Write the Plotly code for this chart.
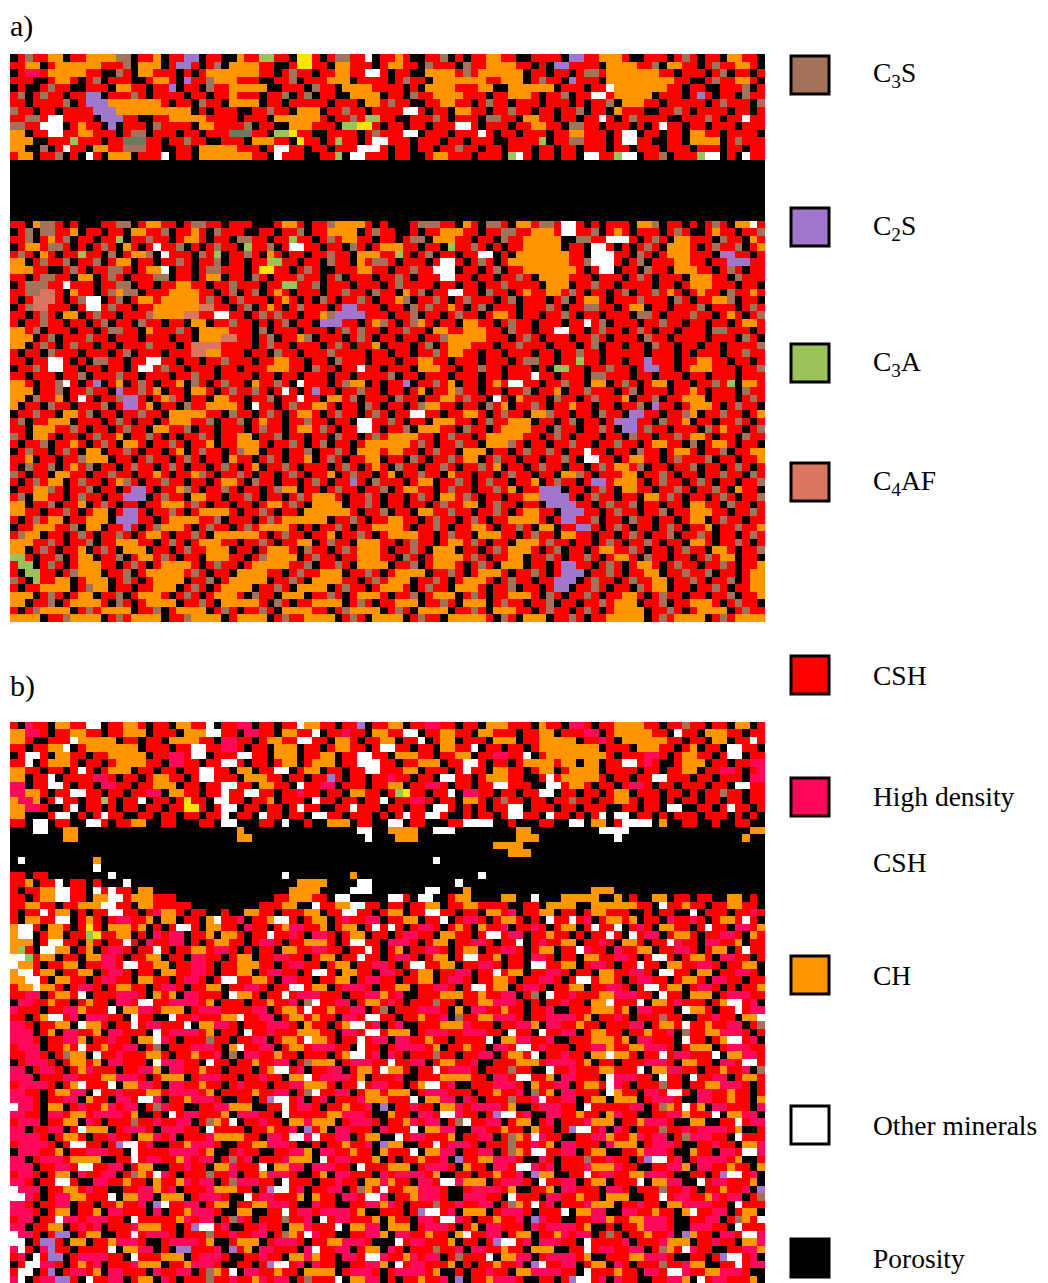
import plotly.graph_objects as go

# phase codes used in the microstructure grids (one letter per cell)
PHASE_CODES = ["R", "H", "O", "K", "W", "B", "P", "G", "F", "Y", "D"]
PHASE_COLORS = ["#ff0000", "#ff0a5a", "#ff9600", "#000000", "#ffffff",
                "#a2725a", "#a077cc", "#9cc35a", "#d97562", "#ffe400", "#6b7b60"]

LEGEND_LABELS = ["C<sub>3</sub>S", "C<sub>2</sub>S", "C<sub>3</sub>A", "C<sub>4</sub>AF", "CSH",
                 "High density<br>CSH", "CH", "Other minerals", "Porosity"]
LEGEND_COLORS = ["#a2725a", "#a077cc", "#9cc35a", "#d97562", "#ff0000",
                 "#ff0a5a", "#ff9600", "#ffffff", "#000000"]

PANEL_A_ROWS = [
    "KRBRROOKRR OOOOBBKRRO KRRPPKRRKK ORRGGRRKYY RKRBBRRWKR RORKKRRBKR KRROORRKKR RRRKPPRROO ORKKRRRKRB RKRRKOORRK",
    "RROOKROOOO OORRRBKOOO KRPPRKRBKO OOORRKKRYY RRKOORRRKR OORRKBRRRK BRROOOORRK RKPPRRRRKO OOORRBKOOR RKRBRROORK",
    "KRHHROOOOO RRKKBRKOOR RRKRKROOOO OOORRKRBRR KRROORRWWR KRRKKOOOOR BROOOOOOKR RKRRKRBBRO OOOOOORRKR RRKRBKRRKR",
    "RRRKKROORK RBKRRRKKRO ORKPRRBOOO RRRKKRRBKR RROOOKRRRR KRBRRKOOOO OOORROOOKR BRRKPRRRKO OOOOOOOORR KKRBRROORK",
    "KRKKRBRRKK RRRKOORRKR RPKRRKBRRO OOOOKKRRRK BRRKOOOORR RRKRKOOOOR RROOKKOOOO OOKRRRKRRW OOOOOOORRK RRKKRRRBKR",
    "RBKRBRRKRR PPKRRRBRKR RRRKRRKRRO RRRKRRBKRB KRRKKOOOOK RRKBRROOOO RRRKRROOOR KRRBKRRWWR OOOOOKRRRK RPRKRRKBRR",
    "RRKRRRRBKR PPPOOOOOOO RKRRKBRRKO OOOKRRKRRR RRKRRRKOOR BRRKKRROOR RKRBRRKRRR KRRRKRKRRB KOOORRKRRR RRKRBRRRKB",
    "BRRKRRKRRR RPPPOOOOOO OOOOKRKRRR KKRRBRRKOO OKRRBRRKRR RRWWRKRRKO ORRKRRBRRK RRKRRBKRRK ORRRKKRRBR KRRRRKRRKR",
    "RRBBRWWRRR RKPPPRRKKR ROOOOORRRR KRRRKOOOOO ORKRRBRGGR RKKRRRBRKR RRKBBRRKOO RRKRRKRRWR KRBRRRRKKR RRBRKRRWRR",
    "BBRRWWWKRO RRKPKRRRKB RRRRKOORRR RBKRRKKOOO RRRKGGYYRK RRKRRKRRRW WRKRRRKRRO ORRKBBRRKR RRKRKRWRRK RRKRRRKRRR",
    "OOKRRWWRRO ORRRKRBBKR RRKRRKRRRD DDRRKGGYRR KKRRRRKRBR RRWWKRRRKR RRWRKRRKRR RKRROORRRK RWWKRRKRRK OORRKRRRRK",
    "OOOKKRRRGR RRKRRDDDRR KRRBRRKKRR RKOOORRKYR RKRGRRKRWW RRRKRRRKRR KRRRKKRRRR GKRRBBRRRK RWWRRKKRRK OOOOKRBRRR",
    "OOKKBKRWRR KOORRBBBRR KKRRKOOOOO RRRKRWWRRK RRKRRRWWWR KRRKRRKRRB RRKRRKRRRK RRKRRKRRRK RRKRRRKRRR KRRRKRRKRR",
    "ROOKRRBKRK WRKOOOKRRR WKRRKOOOOO OORRKWRRRK KRRGKWWRRR KRRKKROORR RKRRRKGWRK RRKRRKWWRR GWWKRRBKRR RGWWKRKWRR",
    "KKKKKKKKKK KKKKKKKKKK KKKKKKKKKK KKKKKKKKKK KKKKKKKKKK KKKKKKKKKK KKKKKKKKKK KKKKKKKKKK KKKKKKKKKK KKKKKKKKKK",
    "KKKKKKKKKK KKKKKKKKKK KKKKKKKKKK KKKKKKKKKK KKKKKKKKKK KKKKKKKKKK KKKKKKKKKK KKKKKKKKKK KKKKKKKKKK KKKKKKKKKK",
    "KKKKKKKKKK KKKKKKKKKK KKKKKKKKKK KKKKKKKKKK KKKKKKKKKK KKKKKKKKKK KKKKKKKKKK KKKKKKKKKK KKKKKKKKKK KKKKKKKKKK",
    "KKKKKKKKKK KKKKKKKKKK KKKKKKKKKK KKKKKKKKKK KKKKKKKKKK KKKKKKKKKK KKKKKKKKKK KKKKKKKKKK KKKKKKKKKK KKKKKKKKKK",
    "KKKKKKKKKK KKKKKKKKKK KKKKKKKKKK KKKKKKKKKK KKKKKKKKKK KKKKKKKKKK KKKKKKKKKK KKKKKKKKKK KKKKKKKKKK KKKKKKKKKK",
    "KKKKKKKKKK KKKKKKKKKK KKKKKKKKKK KKKKKKKKKK KKKKKKKKKK KKKKKKKKKK KKKKKKKKKK KKKKKKKKKK KKKKKKKKKK KKKKKKKKKK",
    "KKKKKKKKKK KKKKKKKKKK KKKKKKKKKK KKKKKKKKKK KKKKKKKKKK KKKKKKKKKK KKKKKKKKKK KKKKKKKKKK KKKKKKKKKK KKKKKKKKKK",
    "KKKKKKKKKK KKKKKKKKKK KKKKKKKKKK KKKKKKKKKK KKKKKKKKKK KKKKKKKKKK KKKKKKKKKK KKKKKKKKKK KKKKKKKKKK KKKKKKKKKK",
    "RRKOBBRKRK KKRRBBKROO RRKRBBRRKR RRKKKROORK RRBOOOORKR KKKRBBBRRK ORKBBRKOOR BBRWWRKRKR RRKOOBKRRK RKRBRKOOWR",
    "KRBKBBRROK RRKRRKOORR BKRRORKBRR RKKRRKRRBK RROOOOKRBR RKKRKRROOO RRKRRBBRRO OORWWRRBKR ORKRRRKRBR KKRORRKRRB",
    "RRBKRORBKR RKRRGKRRBR RKROORKRRK BBRRKRRGRR KRBROORRKR RKRBBKOOOR RKRRKBRROO OOOKKBBRRW WWRKRBRKOO RRRKBRRKOR",
    "KROORBBRKR KRBRKORKRW RRBKRKRBRR KGRRBKRWWR RKRRKBRKRO OORRKRRKGR RBRKRKRROO OOOKRRKWWR KRKRBRKOOO RKRBRRBKRO",
    "RBRKORKRRG RRKBKROOBK WRRRKBRGKR RBRKORKRRK RRBRRKOOOR RGRKRBKRRK RRWWKRKOOO OOOORRKWWW RRKBRKROOO RRRKPPRRKR",
    "OOKRBRRBKR RBKROOKRRK RRBRKRRBKR RKRRGGRRKR RKBRRKORBB RKRRRKRWWR KRBRKROOOO OOOORRBWWW RKRBKRRROO RRKRRPPPRR",
    "OOORRKKRBR KRRBBRKROO WKRRKRBBRR RKRYYRRKRB RKKRRROORR KRRBRRWWWK RRKRBKRROO OOOOORKRWW KRRKBRRKOO ORRKRBRKRR",
    "RRKRBBRRKO OKRBRKRRRB BKRRKROOKR RKBRKRRRBR RKRBKRRRKR RBRKRRRWWR RKRRKRRBRK OOOORRRKRR RKRBRKRRRK OOORRKBRRR",
    "KRBBBRRWRR RKRRBBKRRK RROORRKRRB RRRKRRGGRR BKRRRKRRRK RBRRRRKRRK RRKRRBRRRR KOOOKRRBRR KRRRRKRRKR OOORRRKRRK",
    "RRBBFFRKOR RKRBOBBKRR ROOOORRKRB KRBKRORKRR RKRRBRRKBR RKORBKRRWW RRKBRRKROR ROORBRKRRK RBKRRBRORK RORRKBRROR",
    "RKRFFFRKRB WWKRBKROOR OOOOORBRKR BRRRKRORKR KBRKRRBRKR ROBKRRBRKR BRRRKRBKRR RKRBKROORK RRRBRRRKBR KRROOBKRRK",
    "KRBFFRRRKR WWRBRRKRRO OOOOOFFRRK RBKRORKRBR RRKRPPRRRK RRKBRBRROR KRBKRRRKRR RBRKRRBBRR KROOKRRKRR RBKRRRKRBR",
    "RRKRBRKOOK RBRRKRRRBO OOOFFRRWWR RKRBRBRRKR ROBPPPPRRR KRRBKRRKRB RRKROORKRR KRRBRKRRKR RRKBBRKRRR BRRKRORKRB",
    "RKRRBRRKRR KRBKRRKBRR KRRKOOKRRB RRKRKRBKRR KPPPRRKROB RKRBORKRRK OORRKRBRRK RRRKRRWRBK RRRKRRBRRK RRKRRKROOR",
    "OORBKRRRKR RKRBBRRKOR RRBRKOOOOR RRKBKRRRKR RRKRBRBRRK RRBRRKOORR OOORRKBRRK RRWWRRKRBR RKRBRKRRKR RRKBBRRRKR",
    "OOOKRBKRRR BRRKRRRKRR RKRRKOOOFF RRKRBKRROB KRRRKRBRKR RKRRKRRBOO OOORRRKRBR KRRRKRRBRK RRRKBRRKRR RRKRRRKBRK",
    "OOKRBRKRBR RKRRKRRRBR RRKRFFFFRR RRKRBRRKRR RKRBRKRROK RRRKRBKROO ORRRKRRBRR RKRRRKRBKR RKRRKBRRKR RKRRKRRRRB",
    "RKRRKBRRRK RRRKRBKRRR KRRRFFOORR RKRRKBRRKR RRBRRRRKRR KRRKRRBROO RRKRRKRRRK RRKRRBRRKR RRRRKRRRKR KRRRKRRBRR",
    "RRKRRWWRKR KBBRRKRRWW RRKRRKRRBR RRKRROORRK RRKBRRRKRR RKRROORRKR RRKRRRKRBB RRKRRGRRKR RKRRPRRRKR ROORRKRRKR",
    "KRRBRWWRRK RRKRRKRWWR BRRKRRRKRR KRRROOORRK BRRKRRWRRK RRRKOOORRK RRBRRKRRRK RKGGRRKRRB RRKRPPRRKR OOORRRKRRB",
    "RRKRRRKRRB KRRRBRRKRR RKRRBRRKRR RRKRRKRRKR RRKRRKRRRR BKRRKRRRKR RRKRRKRRRW RRKRRRKBBR RRKRRKRRRK RRKRRRKRRR",
    "OORKRRBWRK RPKROKRBRK RROKBRKRBR RKORRBRKWR RRKRBOOKRK RRPKRRBROK RRKRORWWRR KRRBRRKOOK RBRKROOKRR KRRBRGKOOR",
    "OOOKRRBKRR BRRKPRRBRO KRRKOORKRB RRBRKRWRKR PRRKRRBRRK RRKROKRROB RRKRRKRRBK RROKRRBRRR KRBKRRRKRR ORKRRRKBRR",
    "OOKBRROKRW RKRRBPPRKR OBRKRRKOOR RKRRBKRRWR RKOORBKRRR KBRRKRROOR BRRKWRKORR RKBRRKRBRR ROKRRBKRRO OOKRRRKRBR",
    "OKRRKBRRKR RRBKRPPROK RRKBRROOOO RKWRRKRBRR OORKRRKBRK RRKRBOORRK RRKBROKRRB RKRRORRKRR KRRBKPRRKR OOORKRBRRK",
    "KRRBRRKOOR BKRRKRRBRR KOOOOORRKB RRKRBRKROO RKRBRRKRBR KRRWWRRKRR OORKRBRRKO OBRRKRRKBR RKPPRRKRRB OKRRBRRKRO",
    "RBKRROOOKR RRKRBRKRRK ROOORRBKRR BKRORRKRRB RRKRRKWWRR BRKRRKOOOR RKRBRROOOK RRKRBKRRKR PPPRRKBRRO KRRKRRBRKR",
    "RRKOOORRBR KRRKRBRRKO ORRBKRRKRR RKRBRRKROO RBRKRRWWRK RRBKOOORRK BRRKROOOOR RKBRRKRRBR KPPRBRRKRR RKBRORRKRB",
    "BRKOORKRRK RBRROKRRBR KRKRRBRKRR OOKRRBKRRK RRKBRRKRBR OOOORRKRBR RKROOOOORR KRBRKRRRKR RKBRRKRRBR OORKRRKBRR",
    "RKRRBKRROR KRBRKOORKR RBRKRROKRR OOORKRRBRK RBKRRKROOO OOORBRKRRB RRKOOOBRKR RKRRBRRKRR BRRKROORRK BKROORKRRK",
    "KRBRRKRBRK OOKRRBRKRR KROKRBRRKR BOOKRRKRRB KRRBRKOOOR OORRKRBRRK OOOKRRKRBR RBRKRRWRRK RRKBRRKROO RKRRBKRROO",
    "RROKRRKRRB OOOKRRKRBR RKRBRKRRKO RRKRBRKRRO KRBRKRROOK RRKBRKRRBR OOKRBRRKRR KRRBRKWWRR KROORRKRBR RRBKRRKRRO",
    "RKBRRBKROR BKRRKRBRRK RBRKRRKRBR KROKRRBRKR RRKRBRKROR KBRRKRRBRK RRBROKRRKR BRRKRRKRBR OORBKRRKRR BKRRKRBRKR",
    "BRKRRKOORR KRRBRRKRRO RKRROBRKRR BRKRRKRBRK RROKRBRRKR OKRRBRRKOR RKRRKRBRRK RRKOOBRKRR ROOKRRBRKR RKRRBRRKBR",
    "RKRBROOKRB RRKROBRKRR BRRKRRKROO RKBRRKRRKR BRKRRPRKBR RRKROOKRRB RKRBRRKRRO KRBRRKRPPR OOORKRBRRK RBRKRRKRRB",
    "KRROOBRKRR BKRRKRPPRK RROBRKRRBR KRRKRBOOKR RKRBRRKRRB KROORRKRBR RKRRBROKRR PPPKRRKRBR KOORRKRRBR KRRBRKORRK",
    "RBKOORRKRB RRKRRPPPKR BRRKOORRKR RBRKRRKRBR OOORKRRBRK RRKRBRKOOR BRKRRKRROO PPPPRKRBRR KRRKOORBRK RRKRBRKRRB",
    "OOKRRBKRRO KRBRKRRKRR OOORBRKRRK RRKROORBRK OOOOKRRBRK RRKRRKRBRR OOKRBRRKRR KPPPPRRKRB RRBKRRKRRK OORRKBRRKR",
    "OORRKRRBRK ROOKRPPRKR RBRKROOOOR KRRBRKRRKO OOOOORKRRB KRRKOORRBR RKRRBRKROO RRKPPPRRKR BRRKRRBKRR OOORRKRRBR",
    "RKRBROOKRR OOOKPPPRRK ROOOORRBKR RRKRBROOOO OOKRRBRKRR OORRKRBRRK RBRKRROOOO RKRPPRRBKR RKBRRKRRKR OOKRBRRKRR",
    "KRROOORRBK OOKRRPRKRB OOORKRBRRK RBROOOORKR KRRBRKRROO OORKRRBRKR ROORKRRBRK OOKRRPPRKR BRKRRKRBRK RROKRRBRRO",
    "RBOOKRRKRB RKRRBRKROO RKRRBRKOOO OOORKRBRRK RROKRRBRKR OOOORRKRBR RKOOORRKRB RRKOORRKRR KRBRKRRBKR RBRKRRKRBR",
    "OOORRBRKRR BKRROOORRK RBRKROOORR KRRBRKRROO KRBRRKOOOR RKRBRRKROO RBRKRRKOOO RBRRKRRKRB RKRRBRKRRK OORKRRBRKR",
    "OOKRBRKRRO KRBRKOOOKR RKRBRROOOK RRKROOORKB RRKRBROOOR KRRBRKOOOK RRKRBROOOR KRBKRRKROO RRBRKRRKRB RRKOORKRRB",
    "GGRKRRBKRO OKRRBKROOR BRKRRKOOOR RKRBOOOOKR BRRKRROOOR RKBRKROOOO RBRKRROOKR RBRKRRBRKR OORKBRRKRR KRBROOKRRK",
    "RGGKRBRKRO OORRKRBRKR OOOORKRBRR KROOOOORRB KRRBRKOOOO KRRBKROOOR KRBRKOOOKR RKRPPRRKRB RKROORKRBR RKRRBRKRRO",
    "RKGGRRKRBO OOKRRBKROO OOORBRKRRK OOOORRKRBR ROOOKRRBRK ROOOOKRRBR KROOORKRRB RKRPPPKRRB RKRROOKRRB RRBKRRKROO",
    "BRKGRROOKR OOOKRBRKRO OOOKRRBKRO OOOOKRRBRK OOOORRKRBR OOOKRRBRKR OOORKRBRRK RRPPPKRBRR KRBRROOKRR BRKRRBKROO",
    "RKRROOOOKR BOOKRRKRRO OOKRBRKROO OOKRRBRKOO OOKRBRRKRO OORKRBRRKO OORKRRBKRR KRPPKRRBRK RRKBROOKRR KRRBRKRROO",
    "OOOKRBRKRO OKRRBKROOO RKRBRKROOO RKBRRKOOOK RRBRKROOOR KRRBKROOOK RBRKRROOOR KBRKRRBRKR ROORKRBRRK RRKRRBKRRO",
    "OOKRRBKROO OORKBRKROO OOKRRBRKOO OOORKBRKRR OOOOKRBRKR ROOOKRRBRK OOOKRBRRKR RBKRRKRRBR OOOKRRBKRR OOORKRBRRK",
    "RKRBOOOOKR BROOOOKRRB KROOOOKRBR KRRBRKOOOO RRKRBOOOOK RBRKOOOOKR RBRKOOORRK RBRRKRBRKR OOOOKRRBRK ROOOOKRBRR",
    "OOOOKRRBOO OOKRBROOOO KRRBOOOOKR OOOOKRBRRO OOOKRBRKOO OOKRBRRKOO OOORKBRKOO OKRRBRKRRO OOOOKRBROO OOKRBROOOO",
]

PANEL_B_ROWS = [
    "RKHRRKOORR WWKRROORKR RKOORRWKRR HHKRRKRRWO ORRKRRPKRR OOKRRHHRRK RRKOOORRRK ORRKHHRKRR OOOORRKRRB RRKRRKOOKR",
    "OOHHRKRROO RRKRROOOKR RRKOOOWWRR KHHRRKOORR WKRRHRRKOO RRWWKRROOR RKOORRRKRR OOKRRRHHKR OOOOORRKWR RKOOORRKRR",
    "OORKKRRRWO OOOOKRRKRR KOOOORRKHH RRKROORRWW RRKOORKRRO OKRRWKROOK RRRKOOOKRR OOOOOKRRHR KOOOOOORRK RRKOOKRRWR",
    "RRKRROOWKR OOOOOOOKRR RKRRWWRRHH RKRRKOOOKR RKROORRKRW WRRKRRKOOR RWKRRKRRKR OOOOOOOOKR RRKOOORRKR OKRRKWWRRK",
    "KRWWRKOORR KRROOOOOKR RHHRWWKRRR WWRRKOOOKR ROOKRRWWRR KOOORRKRRO OKRRHHRRWK ROOOOOOOOR KRRRHHRKRO ORRKRWWKRR",
    "RRWKROOORK RRKROOOORR KHHRRKRRWW RKRRKROOKR OOOKRRWWWR RKRROOOKRR WWRKRRKROO OOROOKOOKR RWWRHRKKRO OOKRRKRRHH",
    "OORRKRRKRW RKROOOKRRK RRKRRWWRRK OOKRRWWKRO OKRRKRRWWR RROOKRRRKR WRRKOORRKR OOKROOOOKR RRRKRRKRRO OKRRHHRKRH",
    "OOKRRWKRRR RHHRKRRKRO ORRKRWWRRR KOOORRKRRK RRPRKRRKRR HRRKRRKWWR RKROOORRKK RWROOOOORK RRKRRWWRRR KRRKRRRKHH",
    "HHKRRWWRKR RKHHRRKRRO OOKRRKRRWW RRKOORRKWR RHHKRRRKRR OOKRRHHRKR RKRRWWRRRK KWWROORKRR KRHHRKRRKR RRKRRKWWRR",
    "HHOORKRRWW RRKRRKRRHH KOORRKRRWR RWWRRKRRHR RKRRKOORRK RGYRRKRRWK HHRRKRRKRR WWKRRKRRKR OOKRRRKRRK RKRRBRRKRR",
    "OHHOKRWRRK RRGRKRRWKR RKRYRRKWWR RKRROKRRRK WRRKRRKRRW KRRHHRKRRK OORKRBRRKR RKRRBRRKRR OORKRRKRKR RKRRKRRKRR",
    "OOHHRKKRWK RRKRKRRKRR KRRYYRKRWW KRRKRRKRWR RKKRRWRRRK RRKRRKWWRK RKRKRRWWKR RRKRRKRRRK KRRKRRKWWK KRRKRWRRKR",
    "OOKKKRWWKR KRWRRKKRRK RRKRRKRRWK RRKWRRKRRK WWRRKRRRKR KRWRRWWRKK RKRRKRWWRR KWRRKRKRWK WWKRRKRKRR RKRRRKRKRK",
    "RRKWWKRRKK WWRKRROOKK RRKKKRRKWW KKKRRKWKKR KKOOOKRRKK WWKRRKKKRR WWWWKKRKKK RRKKWWKOOK RWWWWKOKKR RKKRKKRRKK",
    "KKKWWKKOOK KKKKKKKKKK KKKKKKKKKK OKKKKKKKKK KKKKKKWWKK OOOOKKWWWK KKKKKKKOOK KKKKKKKKWW WWKKKKKKKK KKKKKKKKOO",
    "KKKKKKKOOK KKKKKKKKKK KKKKKKKKKK OOKKKKKKKK KKKKKKKWKK KOOOKKKKKK KKKKKKKOOO KKKKKKKKKK WKKKKKKKKK KKKKKKKOKK",
    "KKKKKKKKKK KKKKKKKKKK KKKKKKKKKK KKKKKKKKKK KKKKKKKKKK KKKKKKKKKK KKKKOOOOKK KKKKKKKKKK KKKKKKKKKK KKKKKKKKKK",
    "KKKKKKKKKK KKKKKKKKKK KKKKKKKKKK KKKKKKKKKK KKKKKKKKKK KKKKKKKKKK KKKKKKOOOK KKKKKKKKKK KKKKKKKKKK KKKKKKKKKK",
    "KWKKKKKKKK KOKKKKKKKK KKKKKKKKKK KKKKKKKKKK KKKKKKKKKK KKKKKKWKKK KKKKKKKKKK KKKKKKKKKK KKKKKKKKKK KKKKKKKKKK",
    "KKKKKKKKKK KWKKKKKKKK KKKKKKKKKK KKKKKKKKKK KKKKKKKKKK KKKKKKKKKK KKKKKKKKKK KKKKKKKKKK KKKKKKKKKK KKKKKKKKKK",
    "RRKRRKKKKK KKKWKKKKKK KKKKKKKKKK KKKKKKWKKK KKKKKOKKKK KKKKKKKKKK KKWKKKKKKK KKKKKKKKKK KKKKKKKKKK KKKKKKKKKK",
    "RROKRRWKRR KRKKKWKKKK KKKKKKKKKK KKKKKKKKOO OOKKKKWWKK KKKKKKKKKW KKKKKKKKKK KKKKKKKKKK KKKKKKKKKK KKKKKKKKKK",
    "RKRROOWWRR KWRWRRKOOK KKKKKKKKKK KKKKKKKOOO OKKKKWWWKK KKKKKWWKKK OKKKKKKKKK KKKKKKKOOO KKKKKKKKKK KKKKKKKKKK",
    "RRKROOWWRR KOOWWROOOR RRKKKKKKKK KKKKKRROOO RRKWWKKKKK WWRKWWKKRO OKKKKOOKKW KKKOOOOOKK OKRKKOOKRR KRRKKOOKRK",
    "RROORRKRRO OOWWRRKOOR RRRRKKKKKK KKKRRROOKK WRROOWWRRK RRKRROOKRR OORRRRKKRR KOOOOKKOOO OOORRKWRRO RRKRROORRK",
    "RKRRWROOKR KRRWWRRKRH OORKRRKKRK KOORRKRRRO OKRRWWRRKR OOKRRWWRRK RRKOORHKRR OOKRRKROOR RRKKRKRRKK WKRRRKRRHR",
    "RKOORRWWKR ORKRHHRROK OOKRRKOWRR HKRROWWRKR OOKRHRRHHK RROOKRRWKR HHRKROORKR KWRRWRHKRO OROKRRKHRR HRKROORWRK",
    "OWWRKOORKR YRKOOOROKR KRWWRKOORR KHRRKROHHR ROKROOKRWR WRKRHHRKRO RKORRHKRRH RKROOKRWRR WKRHRKOORR KRWRRKHHRO",
    "OWWKROOKRR GYRROOKRKH RHHKRROKOO RKRRWRRHRK HHRKROOKRR KRHHRRKOOR RKRWWRHHKR RORRKRKRRW RKWRHHKROO RKRRHHRKOR",
    "OOOKRWWRRK ORKRRWRKHR RHHKRKROOR RKRHHRKRRO OORKRWWRRK HHHRKROOKR RHHRKRRWKR HRROOKRRHR KOORKRRWHR RKHHRROKRR",
    "OGRKWWOOKR OKRHHRKRRW RKRROORHHR KRKRRKOORR HHRRKRRWRK ROKRRHHRKR OOKRRHHRKR OOKRRWHRRK HRROOKRRHH RKROOKRWRR",
    "WWGROOKRRK OOHHRKRROO KRRKHHRRKR OOKRRHHRRK ROOKRRWRRK RHHRKROOKR WWRROKRRKH HRKRRKOORR HHRKRWWRKR OORKHHRRKR",
    "WOORKRROOK RRHHRWWRRO OKRRHHRKRR OOORRKRHHR RKROOKRRHH RKRWWRROOK RRHHRKRRKW WRROOKRHHR KRRWRRKOOR RHHRKRROOK",
    "OWWROOKRRO OKRHHRKRRK OORRHHRKRR OOKRHHRRKR WWRKOORRKH HRKROOKRRH HKRRWROOKR RHHRKRRKOO RRHHRKWWRR KOOKRRHHRK",
    "OOWWRKOORR KRHHRRKOOR RKRHHRKRWW RROORKHHRR KRROOKRHHR RKRROOKRHH RKRROORKRR HHRKRWWROO RKRHHRRKRO ORKHHRRKRR",
    "ROOWOORKRH HRKROORRKR HHRKRROOKR RHHRKRRWWR OOKRHHHRKR ROOKRRHHRK RWWROOKRHH RKRROOKRRH HRKRWWROOK RHHRKRKRRO",
    "RRHHKROORW KRRRHHHRKO ROKHHRRRKW OORKRRWRHH HRRRKRRHHO RHKKRRROOO RRORRHHKRB KWRRHRRROO HHHRRKWRRK OOOKRHHHRR",
    "KHHRRORRKR ORRKHHRWWR RHHHHROKRR RKRRORRHKB WRRHHKROOR HRKRRRBRRK RROOHHHRKR KRRHRRKOOW RRRWKOORHR RRKROWWRHK",
    "HRRRKRRHHO RRRWKOOHHR OOOKRHHHRR RRHHKROORW RRORRHHKRB KRRRHHHRKO KHHRRORRKR RHKKRRROOO ROKHHRRRKW OORKRRWRHH",
    "RRKROWWRHK HHHRRKWRRK KWRRHRRROO WRRHHKROOR ORRKHHRWWR RKRRORRHKB RROOHHHRKR RHHHHROKRR HRKRRRBRRK KRRHRRKOOW",
    "HHRKRROOKW OORKRRWRHH RRRWKOOHHR KRRRHHHRKO RRKROWWRHK RHKKRRROOO HRRRKRRHHO KHHRRORRKR RRHHKROORW RRORRHHKRB",
    "HHHKROKHHR ROKHHRRRKW RHHHHROKRR KWRRHRRROO ORRKHHRWWR OOOKRHHHRR HHHRRKWRRK WRRHHKROOR RKRRORRHKB RROOHHHRKR",
    "HHHRKRRHHO KRRHRRKOOW HRKRRRBRRK RRHHKROORW OORKRRWRHH KHHRRORRKR RRRWKOOHHR RHKKRRROOO ROKHHRRRKW RRKROWWRHK",
    "RHHHKRRORW RRORRHHKRB KRRRHHHRKO WRRHHKROOR HHHRRKWRRK RHHHHROKRR ORRKHHRWWR HRRRKRRHHO RROOHHHRKR OOOKRHHHRR",
    "RRHHRKRBOO KWRRHRRROO RKRRORRHKB KHHRRORRKR RRKROWWRHK HRKRRRBRRK RRHHKROORW KRRHRRKOOW OORKRRWRHH RRRWKOOHHR",
    "KRHHHRKROO ROKHHRRRKW HHHRRKWRRK RRORRHHKRB OOOKRHHHRR WRRHHKROOR RHKKRRROOO RHHHHROKRR KRRRHHHRKO ORRKHHRWWR",
    "HHKRHHRKRO HRRRKRRHHO KHHRRORRKR RRKROWWRHK RRHHKROORW OORKRRWRHH HRKRRRBRRK KWRRHRRROO RRRWKOOHHR RKRRORRHKB",
    "HHHKRRRHHR RROOHHHRKR OOOKRHHHRR KRRHRRKOOW RHHHHROKRR RHKKRRROOO ORRKHHRWWR ROKHHRRRKW HHHRRKWRRK WRRHHKROOR",
    "RHHHHRKROW RRRWKOOHHR KHHRRORRKR HRRRKRRHHO OORKRRWRHH RRKROWWRHK KRRRHHHRKO RRHHKROORW HRKRRRBRRK RROOHHHRKR",
    "HHRRKROOHH KWRRHRRROO RHHHHROKRR RRORRHHKRB WRRHHKROOR OOOKRHHHRR RKRRORRHKB ROKHHRRRKW ORRKHHRWWR KHHRRORRKR",
    "HHHRKRRHHK ORRKHHRWWH KRROHHHRKK RRKRPWWRHK RHKRRRHOOO RRRWKOOHHK HRKRRRBRRH WRRHHKROOK OOOKRHHHRK KHHRRORRKO",
    "WHHRKOOKRH RROHRHHKRB HRRKKRRHHO OOKKRRWRHH RKRRORRHKP KRRHRRKOOH RHHHHROKKR HHHRRKWRRR RRHHKRBORW ROKHHRRRKH",
    "HHRRKHHROO RHHHHROKKR KWRHHRRROK HHHRRKWRRR RROOHHHRKK ORRKHHRWWH RRKRPWWRHK KHHRRORRKO HRRKKRRHHO RRRWKOOHHK",
    "RHHHKRROOK HRKRRRBRRH RRHHKRBORW KRRHRRKOOH OOOKRHHHRK RROHRHHKRB WRRHHKROOK RHKRRRHOOO KRROHHHRKK OOKKRRWRHH",
    "HHKRRHHKRW OOOKRHHHRK HHHRRKWRRR RKRRORRHKP ROKHHRRRKH RRRWKOOHHK KHHRRORRKO RRKRPWWRHK HRKRRRBRRH RHHHHROKKR",
    "HHHHRKROOR KRRHRRKOOH RHKRRRHOOO ORRKHHRWWH WRRHHKROOK KWRHHRRROK RRHHKRBORW HRRKKRRHHO RROHRHHKRB HHHRRKWRRR",
    "RHHHHRKRWW RRKRPWWRHK KRROHHHRKK RROOHHHRKK RKRRORRHKP OOKKRRWRHH HRKRRRBRRH ROKHHRRRKH OOOKRHHHRK KRRHRRKOOH",
    "KHHHRROKRR HHHRRKWRRR RHHHHROKKR HRRKKRRHHO KHHRRORRKO RRRWKOOHHK RRHHKRBORW WRRHHKROOK KRROHHHRKK ORRKHHRWWH",
    "HHKRHHHROO OOKKRRWRHH RROHRHHKRB RHKRRRHOOO KWRHHRRROK RKRRORRHKP RROOHHHRKK HRKRRRBRRH RRKRPWWRHK RHHHHROKKR",
    "HHHKRRHHRW WRRHHKROOK KRRHRRKOOH RRRWKOOHHK HHHRRKWRRR OOOKRHHHRK ORRKHHRWWH RHKRRRHOOO HRRKKRRHHO KHHRRORRKO",
    "RHHRKROOKH RRHHKRBORW HRKRRRBRRH KRROHHHRKK ROKHHRRRKH RHHHHROKKR RKRRORRHKP OOKKRRWRHH RROOHHHRKK RRKRPWWRHK",
    "HHRKRRWWRK KHHRRORRKO RROHRHHKRB HHHRRKWRRR KRRHRRKOOH ORRKHHRWWH OOOKRHHHRK WRRHHKROOK RRRWKOOHHK KWRHHRRROK",
    "WHHHKRROOR HRRKKRRHHO RHKRRRHOOO RRKRPWWRHK RRHHKRBORW RROOHHHRKK RHHHHROKKR ROKHHRRRKH HRKRRRBRRH RKRRORRHKP",
    "WWHRKRHHOO RRRWKOOHHK OOOKRHHHRK KWRHHRRROK ORRKHHRWWH KRROHHHRKK HHHRRKWRRR KHHRRORRKO OOKKRRWRHH RROHRHHKRB",
    "HHRKRRHHKR RKRRORRHKP WRRHHKROOK RROOHHHRKK HRRKKRRHHO HRKRRRBRRH RRHHKRBORW RHKRRRHOOO KRRHRRKOOH HHHRRKWRRR",
    "HHHRKROOKR ROKHHRRRKH KRROHHHRKK OOKKRRWRHH RHHHHROKKR RRKRPWWRHK OOOKRHHHRK RRRWKOOHHK KHHRRORRKO WRRHHKROOK",
    "RHHKRRWHHR HHHRRKWRRR RROHRHHKRB HRKRRRBRRH KWRHHRRROK ORRKHHRWWH RKRRORRHKP HRRKKRRHHO RROOHHHRKK RRHHKRBORW",
    "HHKRROOKRH RHKRRRHOOO RRKRPWWRHK KRRHRRKOOH RRRWKOOHHK OOOKRHHHRK ROKHHRRRKH RHHHHROKKR KRROHHHRKK HHHRRKWRRR",
    "WHHRKRPPKR OOKKRRWRHH HRKRRRBRRH RRHHKRBORW HRRKKRRHHO KHHRRORRKO WRRHHKROOK RROHRHHKRB RKRRORRHKP ORRKHHRWWH",
    "WWKRPPRKOO KRROHHHRKK RHHHHROKKR OOOKRHHHRK RROOHHHRKK KWRHHRRROK RRKRPWWRHK HHHRRKWRRR RHKRRRHOOO KRRHRRKOOH",
    "HWRKHPRRKR RRRWKOOHHK RKPPRRRHKP ROKHHRRRKH WRRHHKROOK HRKRRRBRRH KHHRRORRKO OOKKRRWRHH RRHHKRBORW HRRKKRRHHO",
    "RHKWRPPKRH HHHRRKWRRR OOOKRHHHRK KRRHRRKOOH ORRKHHRWWH RROHRHHKRB RRRWKOOHHK RHHHHROKKR RROOHHHRKK RRKRPWWRHK",
    "KRWWHHRKRO RHKRRRHOOO KRROHHHRKK RRKRPWWRHK HRRKKRRHHO KWRHHRRROK RKRRORRHKP WRRHHKROOK HRKRRRBRRH OOKKRRWRHH",
    "RWWKRPKRHH ROKHHRRRKH RRHHKRBORW KHHRRORRKO OOOKRHHHRK RHHHHROKKR KRRHRRKOOH HHHRRKWRRR ORRKHHRWWH RROOHHHRKK",
    "HWKRHHPPRK WRRHHKROOK HRKRRRBRRH RROHRHHKRB RRRWKOOHHK RKRRORRHKP KRROHHHRKK RRKRPWWRHK HRRKKRRHHO KWRHHRRROK",
]

NX = 100
PAGE_W, PAGE_H = 1048, 1283
PAD = 8                      # the page body keeps an 8px margin round the figure
W, H = PAGE_W - PAD, PAGE_H - PAD


def px(xp):
    return (xp - PAD) / W


def py(yp):
    return 1 - (yp - PAD) / H


def to_grid(rows):
    grid = []
    for row in rows:
        row = row.replace(" ", "")
        if len(row) < NX:
            row = row + row[-1] * (NX - len(row))
        grid.append([PHASE_CODES.index(c) for c in row[:NX]])
    return grid


n = len(PHASE_COLORS)
colorscale = []
for i, c in enumerate(PHASE_COLORS):
    colorscale.append([i / n, c])
    colorscale.append([(i + 1) / n, c])

fig = go.Figure()
for rows, xa, ya in [(PANEL_A_ROWS, "x", "y"), (PANEL_B_ROWS, "x2", "y2")]:
    fig.add_trace(go.Heatmap(
        z=to_grid(rows), colorscale=colorscale, zmin=-0.5, zmax=n - 0.5,
        showscale=False, hoverinfo="skip", xaxis=xa, yaxis=ya))

ax = dict(visible=False, showgrid=False, zeroline=False, fixedrange=True)
fig.update_layout(
    width=W, height=H,
    margin=dict(l=0, r=0, t=0, b=0),
    paper_bgcolor="white", plot_bgcolor="white",
    showlegend=False,
    font=dict(family="Liberation Serif, Times New Roman, serif", size=28, color="black"),
    xaxis=dict(ax, domain=[px(10), px(765)], range=[-0.5, NX - 0.5]),
    yaxis=dict(ax, domain=[py(622), py(54)], range=[len(PANEL_A_ROWS) - 0.5, -0.5]),
    xaxis2=dict(ax, domain=[px(10), px(765)], range=[-0.5, NX - 0.5]),
    yaxis2=dict(ax, domain=[0, py(722)], range=[len(PANEL_B_ROWS) - 0.5, -0.5]),
)

# panel letters
for txt, ypx in [("a)", 8), ("b)", 668)]:
    fig.add_annotation(x=px(9), y=py(ypx), xref="paper", yref="paper",
                       text=txt, showarrow=False, xanchor="left", yanchor="top",
                       borderpad=0, font=dict(size=30))

# legend: boxed swatches with labels
legend_y = [75, 227, 363, 482, 675, 797, 975, 1125, 1258]
for label, color, ypx in zip(LEGEND_LABELS, LEGEND_COLORS, legend_y):
    fig.add_shape(type="rect", xref="paper", yref="paper",
                  x0=px(791), x1=px(829), y0=py(ypx + 19), y1=py(ypx - 19),
                  fillcolor=color, line=dict(color="black", width=3))
    for k, line in enumerate(label.split("<br>")):
        fig.add_annotation(x=px(871), y=py(ypx + 65 * k), xref="paper", yref="paper",
                           text=line, showarrow=False, xanchor="left", yanchor="middle",
                           font=dict(size=27.5))

fig.write_html("out.html")
